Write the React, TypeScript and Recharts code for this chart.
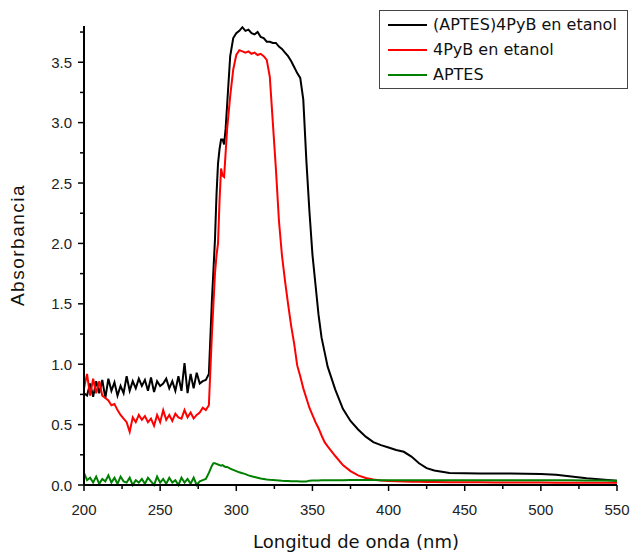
import { LineChart, Line, XAxis, YAxis } from 'recharts'

// wavelength grid (nm)
const wl = [
  200, 202, 204, 206, 208, 210, 212, 214, 216, 218, 220, 222, 224, 226, 228, 230, 232, 234, 236, 238,
  240, 242, 244, 246, 248, 250, 252, 254, 256, 258, 260, 262, 264, 266, 268, 270, 272, 274, 276, 278, 280,
  282, 284, 285, 286, 287, 288, 289, 290, 291, 292, 293, 294, 296, 298, 300, 302, 304, 306, 308, 310,
  312, 314, 316, 318, 320, 322, 324, 326, 328, 330, 332, 334, 336, 338, 340, 342, 344, 346, 348, 350,
  352, 354, 356, 358, 360, 365, 370, 375, 380, 385, 390, 395, 400, 405, 410, 415, 420, 425, 430, 440,
  450, 460, 470, 480, 490, 500, 510, 520, 530, 540, 550,
]

const aptes4pyb = [
  0.76, 0.74, 0.84, 0.73, 0.86, 0.76, 0.87, 0.72, 0.88, 0.78, 0.85, 0.74, 0.82, 0.76, 0.90, 0.78, 0.86, 0.80, 0.88, 0.82,
  0.87, 0.78, 0.89, 0.77, 0.86, 0.82, 0.84, 0.88, 0.80, 0.86, 0.78, 0.90, 0.78, 1.01, 0.76, 0.92, 0.80, 0.93, 0.84, 0.86, 0.87,
  0.92, 1.53, 1.78, 2.03, 2.40, 2.66, 2.78, 2.86, 2.86, 2.82, 2.95, 3.15, 3.55, 3.70, 3.74, 3.76, 3.79, 3.76, 3.77, 3.74,
  3.73, 3.75, 3.71, 3.70, 3.67, 3.67, 3.66, 3.66, 3.63, 3.61, 3.58, 3.55, 3.51, 3.46, 3.41, 3.37, 3.19, 2.69, 2.27, 1.91,
  1.66, 1.41, 1.22, 1.10, 0.98, 0.79, 0.63, 0.53, 0.46, 0.40, 0.355, 0.33, 0.31, 0.29, 0.275, 0.235, 0.18, 0.14, 0.12, 0.10,
  0.097, 0.095, 0.095, 0.095, 0.094, 0.092, 0.085, 0.07, 0.055, 0.045, 0.035,
]

const pyb4 = [
  0.80, 0.92, 0.74, 0.88, 0.76, 0.86, 0.74, 0.72, 0.70, 0.66, 0.67, 0.62, 0.58, 0.55, 0.52, 0.44, 0.56, 0.52, 0.58, 0.54,
  0.57, 0.52, 0.55, 0.49, 0.58, 0.52, 0.62, 0.54, 0.58, 0.53, 0.59, 0.56, 0.55, 0.62, 0.56, 0.60, 0.55, 0.58, 0.60, 0.64, 0.62,
  0.66, 1.25, 1.50, 1.75, 1.90, 2.00, 2.35, 2.62, 2.56, 2.55, 2.75, 2.95, 3.22, 3.44, 3.56, 3.60, 3.59, 3.58, 3.59, 3.57,
  3.58, 3.56, 3.57, 3.55, 3.52, 3.38, 3.00, 2.62, 2.19, 1.90, 1.69, 1.50, 1.32, 1.17, 0.99, 0.90, 0.80, 0.72, 0.64, 0.58,
  0.52, 0.47, 0.41, 0.355, 0.32, 0.24, 0.165, 0.115, 0.08, 0.058, 0.045, 0.038, 0.034, 0.031, 0.029, 0.027, 0.026, 0.025, 0.024, 0.023,
  0.022, 0.022, 0.021, 0.021, 0.02, 0.02, 0.019, 0.019, 0.018, 0.018, 0.018,
]

const aptes = [
  0.10, 0.04, 0.06, 0.02, 0.07, 0.01, 0.05, 0.03, 0.08, 0.02, 0.06, 0.01, 0.07, 0.03, 0.02, 0.06, 0.00, 0.04, 0.02, 0.05,
  0.01, 0.06, 0.03, 0.00, 0.07, 0.02, 0.05, 0.01, 0.06, 0.02, 0.04, 0.00, 0.06, 0.02, 0.05, 0.01, 0.06, 0.00, 0.03, 0.04, 0.05,
  0.10, 0.16, 0.18, 0.18, 0.175, 0.17, 0.165, 0.16, 0.165, 0.155, 0.15, 0.15, 0.135, 0.125, 0.115, 0.105, 0.098, 0.09, 0.08, 0.072,
  0.066, 0.06, 0.054, 0.05, 0.046, 0.043, 0.041, 0.039, 0.037, 0.035, 0.034, 0.033, 0.032, 0.031, 0.031, 0.03, 0.03, 0.03, 0.036, 0.038,
  0.038, 0.038, 0.039, 0.039, 0.039, 0.04, 0.04, 0.041, 0.041, 0.041, 0.041, 0.04, 0.04, 0.04, 0.04, 0.04, 0.04, 0.04, 0.04, 0.04,
  0.04, 0.04, 0.04, 0.04, 0.04, 0.04, 0.04, 0.039, 0.038, 0.037, 0.035,
]

const seriesNames = ['(APTES)4PyB en etanol', '4PyB en etanol', 'APTES']
const seriesColors = ['#000000', '#ff0000', '#008000']

const xTicks = [200, 225, 250, 275, 300, 325, 350, 375, 400, 425, 450, 475, 500, 525, 550]
const yTicks = [0, 0.25, 0.5, 0.75, 1, 1.25, 1.5, 1.75, 2, 2.25, 2.5, 2.75, 3, 3.25, 3.5, 3.75]

const rows = wl.map((w, i) => ({ wl: w, a: aptes4pyb[i], b: pyb4[i], c: aptes[i] }))

const tickFont = { fontFamily: '"Liberation Sans", Arial, sans-serif', fontSize: 15, fill: '#222' }

function XTick({ x, y, payload }: any) {
  const major = payload.value % 50 === 0
  return (
    <g>
      <line x1={x} x2={x} y1={y} y2={y + (major ? 6 : 4)} stroke="#000" strokeWidth={1.5} />
      {major && <text x={x} y={y + 29.5} textAnchor="middle" {...tickFont}>{payload.value}</text>}
    </g>
  )
}

function YTick({ x, y, payload }: any) {
  const major = Math.abs(payload.value * 2 - Math.round(payload.value * 2)) < 1e-6
  return (
    <g>
      <line x1={x - (major ? 6 : 4)} x2={x} y1={y} y2={y} stroke="#000" strokeWidth={1.5} />
      {major && <text x={x - 12} y={y + 5.5} textAnchor="end" {...tickFont}>{payload.value.toFixed(1)}</text>}
    </g>
  )
}

function XTitle() {
  return (
    <text x={356} y={548} textAnchor="middle" fontSize={18} fontFamily='"DejaVu Sans", Verdana, sans-serif' fill="#111">
      Longitud de onda (nm)
    </text>
  )
}

function YTitle() {
  return (
    <text x={24} y={245} transform="rotate(-90, 24, 245)" textAnchor="middle" fontSize={19} letterSpacing={1.5}
      fontFamily='"Liberation Sans", Arial, sans-serif' fill="#111">
      Absorbancia
    </text>
  )
}

export default function App() {
  return (
    <div style={{ position: 'relative', width: 630, height: 552, background: '#fff' }}>
      <style>{'body{margin:0}'}</style>
      <LineChart width={630} height={552} data={rows} margin={{ top: 26, right: 13, bottom: 0, left: 0 }}>
        <XAxis
          dataKey="wl" type="number" domain={[200, 550]} ticks={xTicks} interval={0}
          height={67} tickSize={0} tickMargin={0} tickLine={false}
          axisLine={{ stroke: '#000', strokeWidth: 2 }} tick={<XTick />}
          label={() => <XTitle />}
        />
        <YAxis
          type="number" domain={[0, 3.8]} ticks={yTicks} interval={0}
          width={84} tickSize={0} tickMargin={0} tickLine={false}
          axisLine={{ stroke: '#000', strokeWidth: 2 }} tick={<YTick />}
          label={() => <YTitle />}
        />
        <Line dataKey="a" name={seriesNames[0]} stroke={seriesColors[0]} strokeWidth={2} dot={false} isAnimationActive={false} />
        <Line dataKey="b" name={seriesNames[1]} stroke={seriesColors[1]} strokeWidth={2} dot={false} isAnimationActive={false} />
        <Line dataKey="c" name={seriesNames[2]} stroke={seriesColors[2]} strokeWidth={2} dot={false} isAnimationActive={false} />
      </LineChart>
      <div style={{ position: 'absolute', left: 379, top: 10, width: 249, height: 79, border: '1px solid #444', boxSizing: 'border-box', background: '#fff' }}>
        {seriesNames.map((n, i) => (
          <div key={n} style={{ position: 'absolute', left: 0, top: 4 + i * 25, height: 20, width: 247 }}>
            <div style={{ position: 'absolute', left: 8, top: 9, width: 39, height: 2, background: seriesColors[i] }} />
            <div style={{ position: 'absolute', left: 53, top: 0, lineHeight: '20px', fontSize: 16, fontFamily: '"DejaVu Sans", Verdana, sans-serif', color: '#111', whiteSpace: 'nowrap' }}>{n}</div>
          </div>
        ))}
      </div>
    </div>
  )
}
